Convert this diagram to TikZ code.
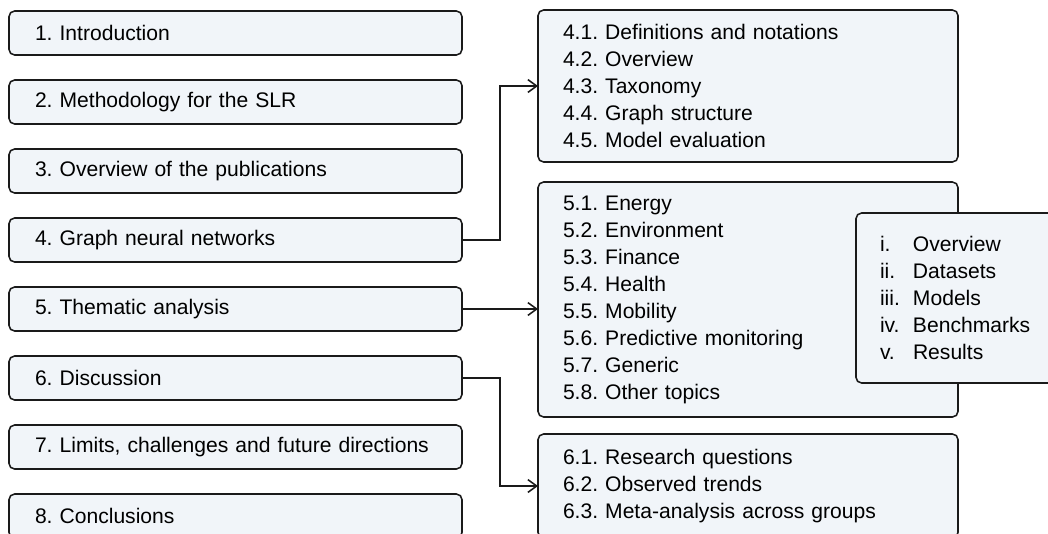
\documentclass[tikz,border=0pt]{standalone}
\usepackage{fontspec}
\setmainfont{Liberation Sans}
\usepackage{xcolor}
\definecolor{boxfill}{HTML}{F1F5F9}
\definecolor{boxline}{HTML}{1A1A1A}
\usetikzlibrary{arrows.meta, positioning}
\frenchspacing

\begin{document}
\begin{tikzpicture}[
  x=0.25mm, y=-0.25mm,
  every node/.style={font=\fontsize{15}{19.2}\selectfont},
  section/.style={rectangle, rounded corners=1.4mm, draw=boxline, line width=1.1pt, fill=boxfill,
    text width=100.25mm, inner xsep=6.5mm, inner ysep=0pt, outer sep=0pt, minimum height=11mm, align=left},
  subsection/.style={section, text width=92.5mm, inner xsep=6.25mm},
  link/.style={draw=boxline, line width=1.1pt, -{Straight Barb[length=2.2mm, width=3.2mm]}}
]

% Frame
\clip (0,0) rectangle (1048,533);

% Sections
\node[section, anchor=north west] (sec1) at (9,11) {1. Introduction};
\node[section, below=6.25mm of sec1] (sec2) {2. Methodology for the SLR};
\node[section, below=6.25mm of sec2] (sec3) {3. Overview of the publications};
\node[section, below=6.25mm of sec3] (sec4) {4. Graph neural networks};
\node[section, below=6.25mm of sec4] (sec5) {5. Thematic analysis};
\node[section, below=6.25mm of sec5] (sec6) {6. Discussion};
\node[section, below=6.25mm of sec6] (sec7) {7. Limits, challenges and future directions};
\node[section, below=6.25mm of sec7] (sec8) {8. Conclusions};

% Subsections
\node[subsection, anchor=north west, minimum height=38mm] (sub4) at (538,10) {
4.1. Definitions and notations\\
4.2. Overview\\
4.3. Taxonomy\\
4.4. Graph structure\\
4.5. Model evaluation};
\node[subsection, anchor=north west, minimum height=58.75mm] (sub5) at (538,182) {
5.1. Energy\\
5.2. Environment\\
5.3. Finance\\
5.4. Health\\
5.5. Mobility\\
5.6. Predictive monitoring\\
5.7. Generic\\
5.8. Other topics};
\node[subsection, anchor=north west, minimum height=26mm] (sub6) at (538,434) {
6.1. Research questions\\
6.2. Observed trends\\
6.3. Meta-analysis across groups};

% Steps of each domain
\node[section, anchor=north west, text width=38mm, inner xsep=6mm, minimum height=42.5mm] (steps) at (856,213) {
\makebox[8.25mm][l]{i.}Overview\\
\makebox[8.25mm][l]{ii.}Datasets\\
\makebox[8.25mm][l]{iii.}Models\\
\makebox[8.25mm][l]{iv.}Benchmarks\\
\makebox[8.25mm][l]{v.}Results};

% Links
\draw[link] (sec4.east) -- ++(38,0) |- (sub4.west);
\draw[link] (sec5.east) -- (sec5.east -| sub5.west);
\draw[link] (sec6.east) -- ++(38,0) |- (sub6.west);

\end{tikzpicture}
\end{document}
